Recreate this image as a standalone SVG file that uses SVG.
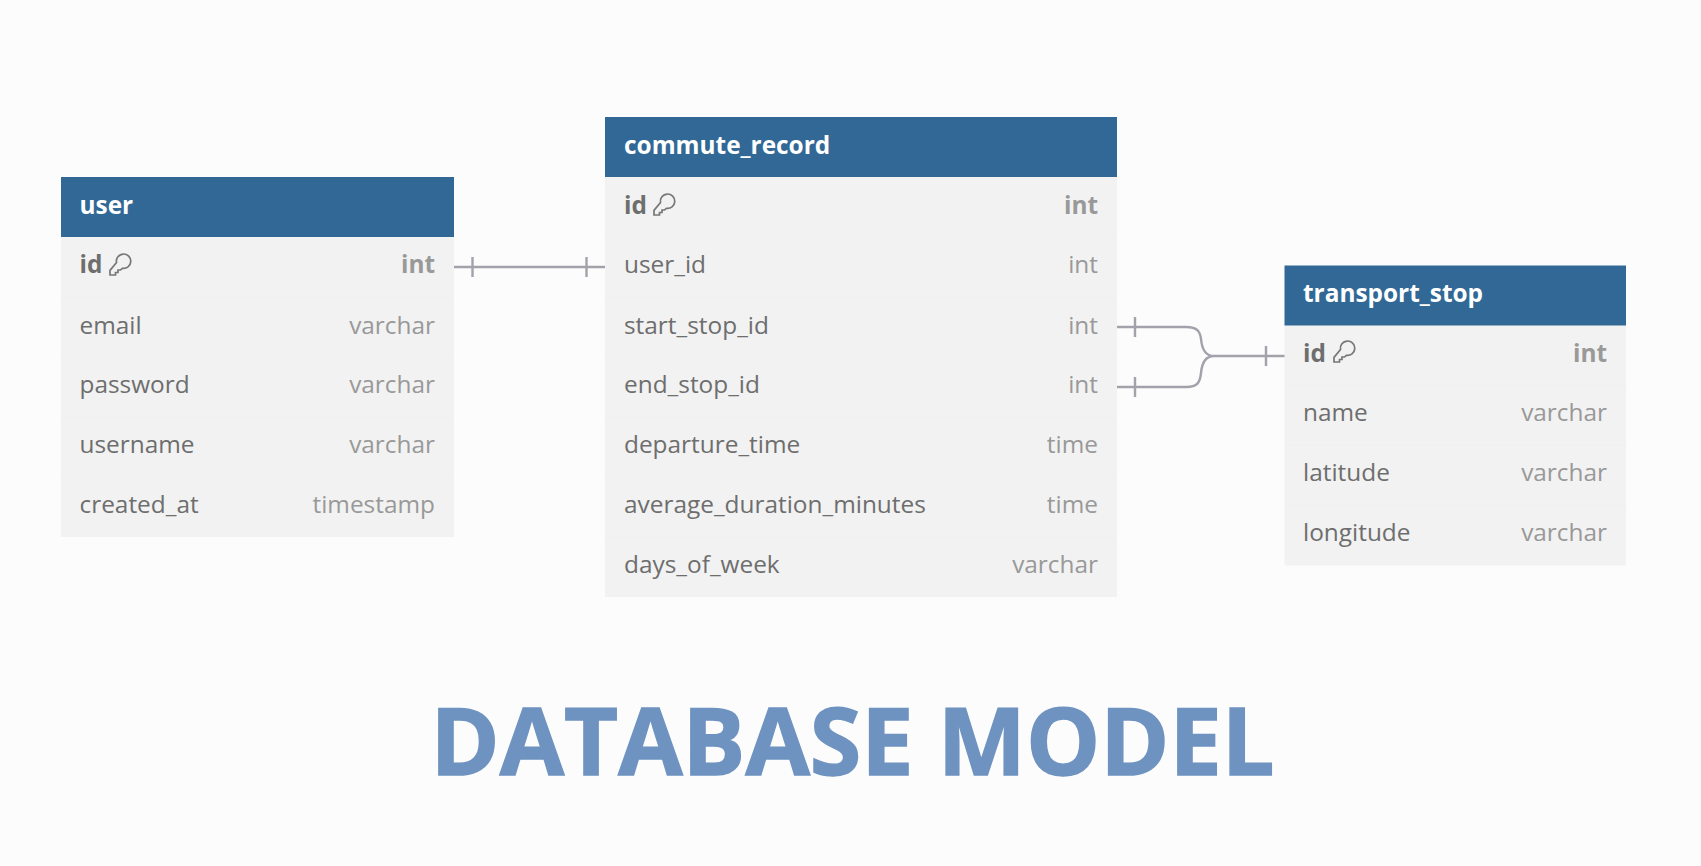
<svg xmlns="http://www.w3.org/2000/svg" width="1701" height="866" viewBox="0 0 1701 866">
<style>
text{font-family:"Open Sans","Noto Sans",sans-serif}
.hd{fill:#316896}
.bd{fill:#f2f2f2}
.t{font-size:24.4px;font-weight:700;fill:#fff}
.n{font-size:24.4px;fill:#6e6e6e}
.ty{font-size:24.4px;fill:#999;text-anchor:end}
.b{font-weight:700}
.sep{stroke:#f0f0f0;stroke-width:1}
.c{fill:none;stroke:#a2a2aa;stroke-width:2.4}
.k{fill:none;stroke:#777;stroke-width:1.7}
</style>
<defs>
<g id="key"><path class="k" d="M7.500 8.500a7.200 7.200 0 1 1 5.800 5.800l-1.800 1.700h-2.500v2.500h-2.500v2.500h-5.500v-4.600z"/></g>
</defs>
<rect width="1701" height="866" fill="#fcfcfc"/>
<g id="connectors">
<path class="c" d="M454 267H605M472.500 257V277M586.500 257V277"/>
<path class="c" d="M1117 327H1186C1198 327 1200 332 1201 339C1202 350 1206 356 1214 356H1285M1117 387H1186C1198 387 1200 382 1201 373C1202 362 1206 356 1214 356M1135 317V337M1135 377V397M1266 346V366"/>
</g>
<g id="user">
<rect class="bd" x="61" y="237" width="393" height="300"/>
<rect class="hd" x="61" y="177" width="393" height="60"/>
<path class="sep" d="M61 297H454M61 357H454M61 417H454M61 477H454"/>
<text class="t" x="79.500" y="214">user</text>
<text class="n b" x="79.500" y="273">id</text><use href="#key" x="109" y="254"/><text class="ty b" x="435" y="273">int</text>
<text class="n" x="79.500" y="334">email</text><text class="ty" x="435" y="334">varchar</text>
<text class="n" x="79.500" y="393">password</text><text class="ty" x="435" y="393">varchar</text>
<text class="n" x="79.500" y="453">username</text><text class="ty" x="435" y="453">varchar</text>
<text class="n" x="79.500" y="513">created_at</text><text class="ty" x="435" y="513">timestamp</text>
</g>
<g id="commute_record">
<rect class="bd" x="605" y="177" width="512" height="420"/>
<rect class="hd" x="605" y="117" width="512" height="60"/>
<path class="sep" d="M605 237H1117M605 297H1117M605 357H1117M605 417H1117M605 477H1117M605 537H1117"/>
<text class="t" x="624" y="154">commute_record</text>
<text class="n b" x="624" y="214">id</text><use href="#key" x="653" y="194"/><text class="ty b" x="1098" y="214">int</text>
<text class="n" x="624" y="273">user_id</text><text class="ty" x="1098" y="273">int</text>
<text class="n" x="624" y="334">start_stop_id</text><text class="ty" x="1098" y="334">int</text>
<text class="n" x="624" y="393">end_stop_id</text><text class="ty" x="1098" y="393">int</text>
<text class="n" x="624" y="453">departure_time</text><text class="ty" x="1098" y="453">time</text>
<text class="n" x="624" y="513">average_duration_minutes</text><text class="ty" x="1098" y="513">time</text>
<text class="n" x="624" y="573">days_of_week</text><text class="ty" x="1098" y="573">varchar</text>
</g>
<g id="transport_stop">
<rect class="bd" x="1284.500" y="325.500" width="341.500" height="240"/>
<rect class="hd" x="1284.500" y="265.500" width="341.500" height="60"/>
<path class="sep" d="M1284.500 385.500H1626M1284.500 445.500H1626M1284.500 505.500H1626"/>
<text class="t" x="1303" y="302">transport_stop</text>
<text class="n b" x="1303" y="362">id</text><use href="#key" x="1333" y="341"/><text class="ty b" x="1607" y="362">int</text>
<text class="n" x="1303" y="421">name</text><text class="ty" x="1607" y="421">varchar</text>
<text class="n" x="1303" y="481">latitude</text><text class="ty" x="1607" y="481">varchar</text>
<text class="n" x="1303" y="541">longitude</text><text class="ty" x="1607" y="541">varchar</text>
</g>
<text x="852.500" y="775" text-anchor="middle" font-size="93" font-weight="700" fill="#6f93c0" stroke="#6f93c0" stroke-width="1.5" textLength="844" lengthAdjust="spacingAndGlyphs">DATABASE MODEL</text>
</svg>
